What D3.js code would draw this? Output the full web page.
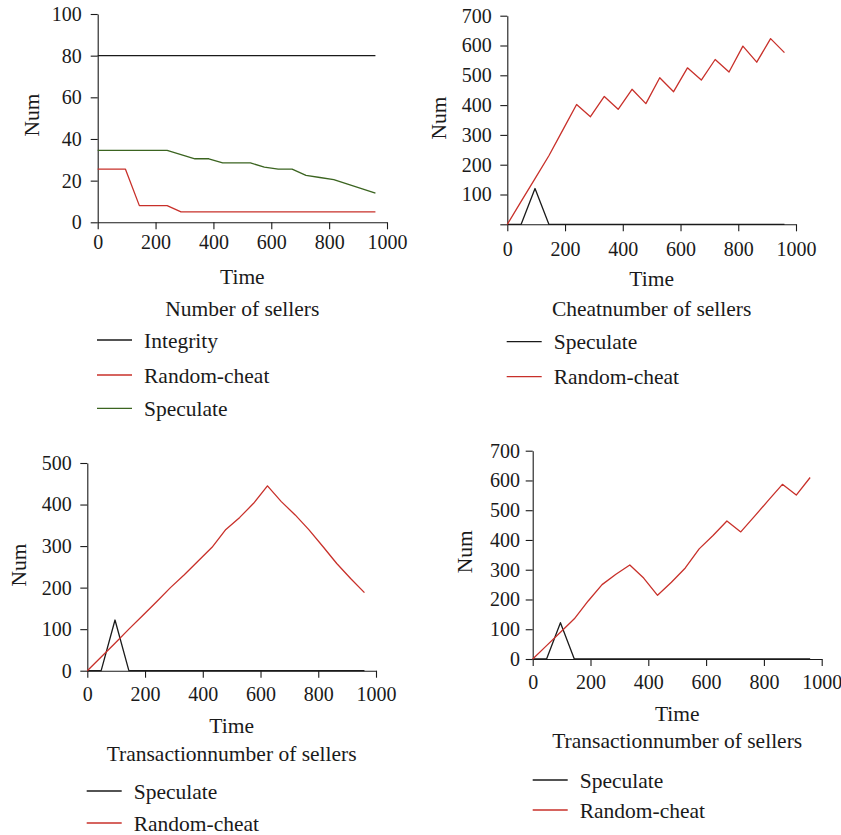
<!DOCTYPE html>
<html>
<head>
<meta charset="utf-8">
<script src="https://cdn.jsdelivr.net/npm/d3@7"></script>
<style>
body { margin: 0; background: #fff; }
text { font-family: "Liberation Serif", "Times New Roman", serif; fill: #1a1a1a; }
</style>
</head>
<body>
<svg></svg>
<script>
let time = [0, 48, 96, 144, 192, 240, 288, 336, 384, 432, 480, 528, 576, 624, 672, 720, 768, 816, 864, 912, 960]
let xTicks = [0, 200, 400, 600, 800, 1000]

// panel 1 - number of sellers
let integrity1 = [80, 80, 80, 80, 80, 80, 80, 80, 80, 80, 80, 80, 80, 80, 80, 80, 80, 80, 80, 80, 80]
let randomCheat1 = [25.5, 25.5, 25.5, 8, 8, 8, 5, 5, 5, 5, 5, 5, 5, 5, 5, 5, 5, 5, 5, 5, 5]
let speculate1 = [34.5, 34.5, 34.5, 34.5, 34.5, 34.5, 32.5, 30.5, 30.5, 28.5, 28.5, 28.5, 26.5, 25.5, 25.5, 22.5, 21.5, 20.5, 18.3, 16.2, 14]

// panel 2 - cheat number
let speculate2 = [0, 0, 120, 0, 0, 0, 0, 0, 0, 0, 0, 0, 0, 0, 0, 0, 0, 0, 0, 0, 0]
let randomCheat2 = [0, 77, 153, 230, 316, 402, 361, 429, 386, 453, 405, 492, 445, 525, 484, 553, 511, 598, 544, 623, 576]

// panel 3 - transaction number
let speculate3 = [0, 0, 122, 0, 0, 0, 0, 0, 0, 0, 0, 0, 0, 0, 0, 0, 0, 0, 0, 0, 0]
let randomCheat3 = [0, 33, 66, 100, 133, 166, 200, 231, 264, 297, 340, 369, 403, 445, 407, 375, 339, 299, 258, 222, 188]

// panel 4 - transaction number
let speculate4 = [0, 0, 122, 0, 0, 0, 0, 0, 0, 0, 0, 0, 0, 0, 0, 0, 0, 0, 0, 0, 0]
let randomCheat4 = [0, 45, 90, 135, 195, 250, 285, 316, 272, 214, 258, 306, 370, 415, 464, 427, 480, 534, 587, 551, 610]

let black = '#1a1a1a'
let red = '#c8302a'
let green = '#3b6420'

let width = 841
let height = 835
let tickFont = 20
let labelFont = 21.5

let panels = [
    {left: 97.7, right: 387, top: 14, bottom: 222.3, yTicks: [0, 20, 40, 60, 80, 100], hideZero: false,
     xPad: 6, yPad: 9, numX: 31.7, numY: 115, timeY: 276.7, titleY: 308, title: 'Number of sellers',
     legX: 97, legY: [340, 375, 408.3],
     series: [{name: 'Integrity', values: integrity1, color: black},
              {name: 'Random-cheat', values: randomCheat1, color: red},
              {name: 'Speculate', values: speculate1, color: green}]},
    {left: 507.3, right: 796, top: 15.7, bottom: 224.3, yTicks: [0, 100, 200, 300, 400, 500, 600, 700], hideZero: true,
     xPad: 10.5, yPad: 8.6, numX: 438.5, numY: 118, timeY: 278, titleY: 308, title: 'Cheatnumber of sellers',
     legX: 506.7, legY: [341.7, 376.7],
     series: [{name: 'Speculate', values: speculate2, color: black},
              {name: 'Random-cheat', values: randomCheat2, color: red}]},
    {left: 87.3, right: 376, top: 463, bottom: 670.7, yTicks: [0, 100, 200, 300, 400, 500], hideZero: false,
     xPad: 9.5, yPad: 8.6, numX: 18.5, numY: 565, timeY: 725, titleY: 753, title: 'Transactionnumber of sellers',
     legX: 86.7, legY: [791, 823],
     series: [{name: 'Speculate', values: speculate3, color: black},
              {name: 'Random-cheat', values: randomCheat3, color: red}]},
    {left: 532.7, right: 821.7, top: 450.7, bottom: 659, yTicks: [0, 100, 200, 300, 400, 500, 600, 700], hideZero: false,
     xPad: 8.5, yPad: 5.7, numX: 464.5, numY: 551.7, timeY: 713, titleY: 740, title: 'Transactionnumber of sellers',
     legX: 532.7, legY: [780, 810],
     series: [{name: 'Speculate', values: speculate4, color: black},
              {name: 'Random-cheat', values: randomCheat4, color: red}]}
]

let svg = d3.select('svg')
            .attr('width', width)
            .attr('height', height)

let drawPanel = (p) => {
    let g = svg.append('g')
    let yMax = p.yTicks[p.yTicks.length - 1]

    let xScale = d3.scaleLinear()
                   .domain([0, 1000])
                   .range([p.left, p.right])
    let yScale = d3.scaleLinear()
                   .domain([0, yMax])
                   .range([p.bottom, p.top])

    let xAxis = d3.axisBottom(xScale)
                  .tickValues(xTicks)
                  .tickSize(7)
                  .tickSizeOuter(0)
                  .tickPadding(p.xPad)
                  .tickFormat(d3.format('d'))
    g.append('g')
     .attr('class', 'x-axis')
     .attr('transform', 'translate(0,' + p.bottom + ')')
     .call(xAxis)

    let yAxis = d3.axisLeft(yScale)
                  .tickValues(p.yTicks)
                  .tickSize(7)
                  .tickSizeOuter(0)
                  .tickPadding(p.yPad)
                  .tickFormat(d => (p.hideZero && d == 0) ? '' : d)
    g.append('g')
     .attr('class', 'y-axis')
     .attr('transform', 'translate(' + p.left + ',0)')
     .call(yAxis)

    g.selectAll('.domain, .tick line')
     .attr('stroke', black)
     .attr('stroke-width', 1.1)
    g.selectAll('.tick text')
     .attr('font-size', tickFont)
     .attr('font-family', '"Liberation Serif", serif')
     .attr('fill', black)

    let line = d3.line()
                 .x((d, i) => xScale(time[i]))
                 .y(d => yScale(d))

    p.series.forEach(s => {
        g.append('path')
         .datum(s.values)
         .attr('fill', 'none')
         .attr('stroke', s.color)
         .attr('stroke-width', 1.3)
         .attr('stroke-linejoin', 'round')
         .attr('d', line)
    })

    let mid = (p.left + p.right) / 2
    g.append('text')
     .attr('x', mid)
     .attr('y', p.timeY)
     .attr('dy', '0.35em')
     .attr('text-anchor', 'middle')
     .attr('font-size', labelFont)
     .text('Time')
    g.append('text')
     .attr('x', mid)
     .attr('y', p.titleY)
     .attr('dy', '0.35em')
     .attr('text-anchor', 'middle')
     .attr('font-size', labelFont)
     .text(p.title)
    g.append('text')
     .attr('transform', 'translate(' + p.numX + ',' + p.numY + ') rotate(-90)')
     .attr('dy', '0.35em')
     .attr('text-anchor', 'middle')
     .attr('font-size', labelFont)
     .text('Num')

    p.series.forEach((s, i) => {
        let y = p.legY[i]
        g.append('line')
         .attr('x1', p.legX)
         .attr('x2', p.legX + 35)
         .attr('y1', y)
         .attr('y2', y)
         .attr('stroke', s.color)
         .attr('stroke-width', 1.3)
        g.append('text')
         .attr('x', p.legX + 47)
         .attr('y', y)
         .attr('dy', '0.35em')
         .attr('font-size', labelFont)
         .text(s.name)
    })
}

panels.forEach(drawPanel)
</script>
</body>
</html>
